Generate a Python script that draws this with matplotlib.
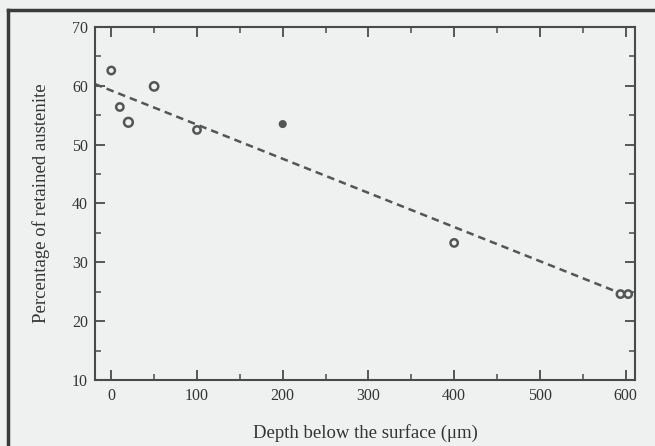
import matplotlib
matplotlib.use("Agg")
import matplotlib.pyplot as plt
from matplotlib.lines import Line2D
import numpy as np

# Data
depth = [0, 10, 20, 50, 100, 200, 400, 594, 603]
austenite = [62.6, 56.4, 53.8, 59.9, 52.5, 53.5, 33.3, 24.6, 24.6]
fit_x = [-19, 592]
fit_intercept = 59.2
fit_slope = -0.058

xticks = [0, 100, 200, 300, 400, 500, 600]
yticks = [10, 20, 30, 40, 50, 60, 70]

plt.rcParams['font.family'] = ['Liberation Serif', 'DejaVu Serif']

bg = '#eff1f0'
ink = '#4a4a4a'
fig = plt.figure(figsize=(6.55, 4.46), dpi=100, facecolor=bg)
ax = fig.add_axes([0.145, 0.148, 0.8245, 0.7915], facecolor=bg)

# outer frame (left and top edges visible in scan)
fig.add_artist(Line2D([8/655, 8/655], [0, 1 - 10/446], transform=fig.transFigure,
                      color='#3a3a3a', lw=2.5))
fig.add_artist(Line2D([8/655, 1], [1 - 10/446, 1 - 10/446], transform=fig.transFigure,
                      color='#3a3a3a', lw=2.5))

fx = np.array(fit_x, dtype=float)
ax.plot(fx, fit_intercept + fit_slope * fx, ls=(0, (3, 2)), color='#555555', lw=1.8)

n = len(depth)
face = [bg] * n
face[5] = '#555555'
sizes = [28] * n
sizes[2] = 40
sizes[3] = 36
sizes[5] = 16
ax.scatter(depth, austenite, s=sizes, facecolors=face, edgecolors='#555555',
           linewidths=1.8, zorder=3)

ax.set_xlim(-19, 611)
ax.set_ylim(10, 70)
ax.set_xticks(xticks)
ax.set_yticks(yticks)
ax.set_xticks([50, 150, 250, 350, 450, 550], minor=True)
ax.set_yticks([15, 25, 35, 45, 55, 65], minor=True)
ax.tick_params(which='both', direction='in', top=True, right=True,
               colors=ink, labelcolor='#333333', labelsize=11.5)
ax.tick_params(which='major', length=7, width=1.3)
ax.tick_params(which='minor', length=4, width=1.1)
ax.tick_params(axis='x', pad=6)
ax.tick_params(axis='y', pad=5)
for s in ax.spines.values():
    s.set_color(ink)
    s.set_linewidth(1.5)

ax.set_xlabel('Depth below the surface (\u03bcm)', fontsize=13.5, color='#333333', labelpad=14)
ax.set_ylabel('Percentage of retained austenite', fontsize=13.5, color='#333333', labelpad=16)

fig.savefig('out.png', dpi=100, facecolor=bg)
